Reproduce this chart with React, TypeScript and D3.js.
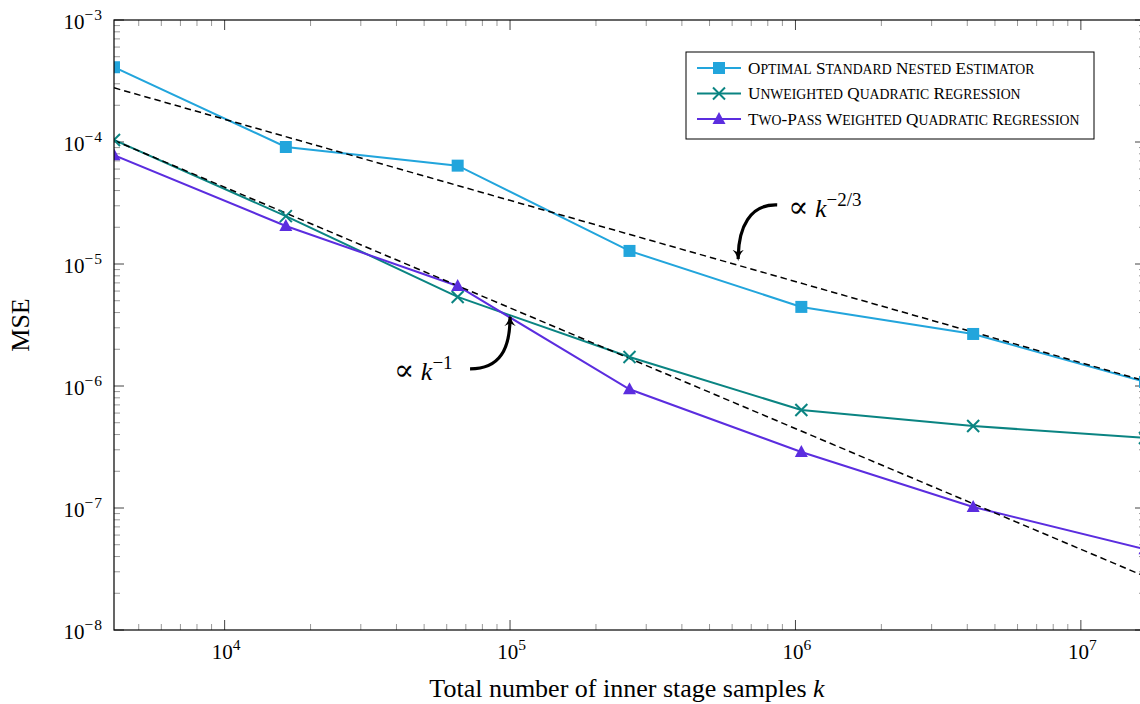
import React from 'react';
import * as d3 from 'd3';

// inner stage sample counts (4^6 ... 4^12)
const samples = [4096, 16384, 65536, 262144, 1048576, 4194304, 16777216];

const standardNested = [4.1e-4, 9.1e-5, 6.4e-5, 1.28e-5, 4.45e-6, 2.67e-6, 1.08e-6];
const unweightedQuad = [1.04e-4, 2.47e-5, 5.37e-6, 1.73e-6, 6.35e-7, 4.7e-7, 3.75e-7];
const twoPassQuad = [7.8e-5, 2.05e-5, 6.6e-6, 9.4e-7, 2.88e-7, 1.02e-7, 4.6e-8];

// reference slopes, values at first and last sample count
const refTwoThirds = [2.78e-4, 1.1e-6];
const refOne = [1.03e-4, 2.75e-8];

const xMajor = [1e4, 1e5, 1e6, 1e7];
const yMajor = [1e-8, 1e-7, 1e-6, 1e-5, 1e-4, 1e-3];

const seriesNames = [
  'Optimal Standard Nested Estimator',
  'Unweighted Quadratic Regression',
  'Two-Pass Weighted Quadratic Regression',
];

const W = 1140;
const H = 704;
const plot = {left: 114, top: 20, right: 1145, bottom: 630};
const serif = '"Liberation Serif", "DejaVu Serif", serif';
const colors = ['#22a5dc', '#0a8482', '#5b2ddf'];

const x = d3.scaleLog().domain([samples[0], samples[samples.length - 1]]).range([plot.left, plot.right]);
const y = d3.scaleLog().domain([1e-8, 1e-3]).range([plot.bottom, plot.top]);

function minorTicks(lo: number, hi: number) {
  const out: number[] = [];
  for (let e = Math.floor(Math.log10(lo)); e <= Math.ceil(Math.log10(hi)); e++) {
    for (let m = 2; m <= 9; m++) {
      const v = m * Math.pow(10, e);
      if (v > lo && v < hi) out.push(v);
    }
  }
  return out;
}

function Marker({kind, cx, cy, color}: {kind: number; cx: number; cy: number; color: string}) {
  if (kind === 0) return <rect x={cx - 6} y={cy - 6} width={12} height={12} fill={color}/>;
  if (kind === 1) {
    return (
      <g stroke={color} strokeWidth={2}>
        <line x1={cx - 6} y1={cy - 6} x2={cx + 6} y2={cy + 6}/>
        <line x1={cx - 6} y1={cy + 6} x2={cx + 6} y2={cy - 6}/>
      </g>
    );
  }
  return <path d={`M${cx},${cy - 7}L${cx + 6.5},${cy + 5}L${cx - 6.5},${cy + 5}Z`} fill={color}/>;
}

function Pow({exp, size}: {exp: number; size: number}) {
  return (
    <>
      10<tspan dy={-size * 0.42} fontSize={size * 0.74} letterSpacing={1}>{exp < 0 ? '\u2212' + (-exp) : exp}</tspan>
    </>
  );
}

// small caps by hand: first letter of each word full size, rest smaller
function SmallCaps({text, size}: {text: string; size: number}) {
  const parts: JSX.Element[] = [];
  text.split(' ').forEach((word, wi) => {
    const segs = word.split('-');
    segs.forEach((seg, si) => {
      const pre = (wi > 0 && si === 0 ? ' ' : '') + (si > 0 ? '-' : '');
      parts.push(<tspan key={`${wi}-${si}a`} fontSize={size}>{pre + seg[0].toUpperCase()}</tspan>);
      parts.push(<tspan key={`${wi}-${si}b`} fontSize={size * 0.8}>{seg.slice(1).toUpperCase()}</tspan>);
    });
  });
  return <>{parts}</>;
}

export default function App() {
  const line = d3.line<number>().x((d, i) => x(samples[i])).y(d => y(d));
  const allSeries = [standardNested, unweightedQuad, twoPassQuad];
  const kFirst = samples[0];
  const kLast = samples[samples.length - 1];

  const xMinor = minorTicks(kFirst, kLast).filter(v => !xMajor.includes(v));
  const yMinor = minorTicks(1e-8, 1e-3).filter(v => !yMajor.some(m => Math.abs(m - v) / m < 1e-9));

  // annotation tips on the dashed guides
  const tipA = {px: x(6.3e5), py: y(1.04e-5)};
  const tipB = {px: x(1e5), py: y(3.9e-6)};

  return (
    <svg width={W} height={H} style={{position: 'absolute', left: 0, top: 0}} fontFamily={serif}>
      <defs>
        <clipPath id="plotclip">
          <rect x={plot.left} y={plot.top} width={plot.right - plot.left} height={plot.bottom - plot.top}/>
        </clipPath>
        <marker id="arrow" viewBox="0 0 10 10" refX="8" refY="5" markerWidth="3.6" markerHeight="3.6" orient="auto">
          <path d="M0,0 Q4,4 10,5 Q4,6 0,10 L2.5,5 Z" fill="#000"/>
        </marker>
      </defs>
      <rect width={W} height={H} fill="#fff"/>

      {/* minor ticks */}
      <g stroke="#999" strokeWidth={1}>
        {xMinor.map(v => (
          <g key={'xm' + v}>
            <line x1={x(v)} x2={x(v)} y1={plot.bottom} y2={plot.bottom - 6}/>
            <line x1={x(v)} x2={x(v)} y1={plot.top} y2={plot.top + 6}/>
          </g>
        ))}
        {yMinor.map(v => (
          <g key={'ym' + v}>
            <line x1={plot.left} x2={plot.left + 6} y1={y(v)} y2={y(v)}/>
            <line x1={plot.right} x2={plot.right - 6} y1={y(v)} y2={y(v)}/>
          </g>
        ))}
      </g>
      <g stroke="#444" strokeWidth={1}>
        {xMajor.map(v => (
          <g key={'xM' + v}>
            <line x1={x(v)} x2={x(v)} y1={plot.bottom} y2={plot.bottom - 10}/>
            <line x1={x(v)} x2={x(v)} y1={plot.top} y2={plot.top + 10}/>
          </g>
        ))}
        {yMajor.map(v => (
          <g key={'yM' + v}>
            <line x1={plot.left} x2={plot.left + 10} y1={y(v)} y2={y(v)}/>
            <line x1={plot.right} x2={plot.right - 10} y1={y(v)} y2={y(v)}/>
          </g>
        ))}
      </g>

      {/* data */}
      <g clipPath="url(#plotclip)">
        {allSeries.map((s, i) => (
          <path key={'l' + i} d={line(s) || ''} fill="none" stroke={colors[i]} strokeWidth={2}/>
        ))}
        <line x1={x(kFirst)} y1={y(refTwoThirds[0])} x2={x(kLast)} y2={y(refTwoThirds[1])}
          stroke="#000" strokeWidth={1.5} strokeDasharray="6.5 4"/>
        <line x1={x(kFirst)} y1={y(refOne[0])} x2={x(kLast)} y2={y(refOne[1])}
          stroke="#000" strokeWidth={1.5} strokeDasharray="6.5 4"/>
        {allSeries.map((s, i) =>
          s.map((v, j) => <Marker key={`m${i}-${j}`} kind={i} cx={x(samples[j])} cy={y(v)} color={colors[i]}/>)
        )}
      </g>

      {/* frame */}
      <rect x={plot.left} y={plot.top} width={plot.right - plot.left} height={plot.bottom - plot.top}
        fill="none" stroke="#000" strokeWidth={1.2}/>

      {/* tick labels */}
      <g fontSize={21} fill="#000">
        {xMajor.map((v, i) => (
          <text key={'xl' + v} x={x(v) + 2} y={plot.bottom + 29} textAnchor="middle">
            <Pow exp={4 + i} size={21}/>
          </text>
        ))}
        {yMajor.map((v, i) => (
          <text key={'yl' + v} x={plot.left - 11} y={y(v) + 9} textAnchor="end">
            <Pow exp={-8 + i} size={21}/>
          </text>
        ))}
      </g>

      {/* axis titles */}
      <text x={(plot.left + 1140) / 2} y={697} textAnchor="middle" fontSize={26}>
        Total number of inner stage samples <tspan fontStyle="italic">k</tspan>
      </text>
      <text transform={`translate(${29},${(plot.top + plot.bottom) / 2}) rotate(-90)`} textAnchor="middle" fontSize={26}>
        MSE
      </text>

      {/* annotations */}
      <path d={`M${tipA.px + 39},${tipA.py - 57} C${tipA.px + 12},${tipA.py - 58} ${tipA.px},${tipA.py - 35} ${tipA.px},${tipA.py - 3}`}
        fill="none" stroke="#000" strokeWidth={3.2} markerEnd="url(#arrow)"/>
      <text x={tipA.px + 50} y={tipA.py - 45} fontSize={26}>
        <tspan fontSize={30}>∝</tspan> <tspan fontStyle="italic">k</tspan><tspan dy={-11} fontSize={19}>−2/3</tspan>
      </text>
      <path d={`M${tipB.px - 40},${tipB.py + 55} C${tipB.px - 10},${tipB.py + 55} ${tipB.px},${tipB.py + 35} ${tipB.px},${tipB.py + 3}`}
        fill="none" stroke="#000" strokeWidth={3.2} markerEnd="url(#arrow)"/>
      <text x={tipB.px - 116} y={tipB.py + 66} fontSize={26}>
        <tspan fontSize={30}>∝</tspan> <tspan fontStyle="italic">k</tspan><tspan dy={-11} fontSize={19}>−1</tspan>
      </text>

      {/* legend */}
      <g transform="translate(686,52)">
        <rect width={408} height={87} fill="#fff" stroke="#000" strokeWidth={1}/>
        {seriesNames.map((name, i) => {
          const ly = 16 + i * 25.5;
          return (
            <g key={'lg' + i}>
              <line x1={11} x2={55} y1={ly} y2={ly} stroke={colors[i]} strokeWidth={2}/>
              <Marker kind={i} cx={33} cy={ly} color={colors[i]}/>
              <text x={62} y={ly + 5.5}><SmallCaps text={name} size={17.2}/></text>
            </g>
          );
        })}
      </g>
    </svg>
  );
}
